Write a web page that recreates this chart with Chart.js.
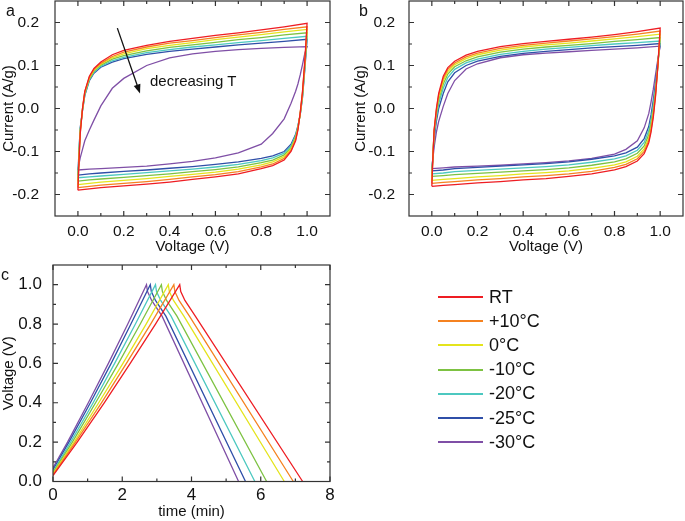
<!DOCTYPE html>
<html>
<head>
<meta charset="utf-8">
<script src="https://cdn.jsdelivr.net/npm/chart.js@4.4.0/dist/chart.umd.min.js"></script>
<style>
  html, body { margin: 0; padding: 0; background: #fff; }
  #wrap { position: relative; width: 685px; height: 521px; overflow: hidden;
          font-family: 'Liberation Sans', Arial, sans-serif; color: #111; }
  #wrap canvas { position: absolute; left: 0; top: 0; }
  .lbl { position: absolute; font-size: 16px; line-height: 18px; white-space: nowrap; }
  .leg { position: absolute; left: 438px; height: 24px; display: flex; align-items: center;
         font-size: 18px; white-space: nowrap; }
  .leg i { display: block; width: 45px; height: 2px; margin-right: 6px; }
</style>
</head>
<body>
<div id="wrap">
  <canvas id="chartA" width="685" height="521"></canvas>
  <canvas id="chartB" width="685" height="521"></canvas>
  <canvas id="chartC" width="685" height="521"></canvas>
  <div class="lbl" style="left:6px;top:2px">a</div>
  <div class="lbl" style="left:359px;top:2px">b</div>
  <div class="lbl" style="left:1px;top:266px">c</div>
  <div class="lbl" style="left:150px;top:72px;font-size:15px">decreasing T</div>
  <div id="legend"></div>
</div>
<script>
// temperatures (same order in every panel)
const temps = ['RT', '+10°C', '0°C', '-10°C', '-20°C', '-25°C', '-30°C'];
const colors = ['#ee1d23', '#f58220', '#e4e41c', '#7dc242', '#4cc8c0', '#2f4fa8', '#7f4fa6'];

// CV sweep voltages (V): forward scan then reverse scan
const cvFwdVolt = [0, 0.005, 0.01, 0.02, 0.03, 0.05, 0.07, 0.1, 0.15, 0.2, 0.3, 0.4, 0.5, 0.6, 0.7, 0.8, 0.9, 1.0];
const cvRevVolt = [1.0, 0.99, 0.98, 0.97, 0.96, 0.95, 0.93, 0.9, 0.85, 0.8, 0.7, 0.6, 0.5, 0.4, 0.3, 0.2, 0.1, 0.05, 0];

// panel a, current (A/g)
const aFwd = [
  [-0.19, -0.12, -0.06, 0.0, 0.04, 0.075, 0.093, 0.108, 0.125, 0.135, 0.147, 0.156, 0.163, 0.17, 0.176, 0.183, 0.19, 0.198],
  [-0.184, -0.115, -0.057, 0.0, 0.039, 0.073, 0.091, 0.105, 0.121, 0.131, 0.143, 0.152, 0.158, 0.165, 0.171, 0.177, 0.184, 0.19],
  [-0.177, -0.11, -0.054, -0.002, 0.037, 0.071, 0.089, 0.103, 0.118, 0.127, 0.139, 0.147, 0.153, 0.16, 0.166, 0.172, 0.178, 0.184],
  [-0.169, -0.105, -0.051, -0.003, 0.035, 0.069, 0.087, 0.101, 0.115, 0.123, 0.134, 0.142, 0.148, 0.154, 0.16, 0.165, 0.171, 0.176],
  [-0.161, -0.1, -0.048, -0.004, 0.032, 0.067, 0.084, 0.098, 0.111, 0.119, 0.13, 0.137, 0.143, 0.148, 0.153, 0.158, 0.163, 0.168],
  [-0.155, -0.095, -0.045, -0.005, 0.03, 0.065, 0.082, 0.096, 0.108, 0.116, 0.126, 0.133, 0.138, 0.143, 0.148, 0.152, 0.156, 0.161],
  [-0.143, -0.128, -0.115, -0.095, -0.075, -0.05, -0.027, 0.006, 0.047, 0.07, 0.1, 0.118, 0.127, 0.133, 0.137, 0.14, 0.142, 0.144]
];
const aRev = [
  [0.198, 0.11, 0.04, -0.01, -0.05, -0.075, -0.1, -0.12, -0.133, -0.14, -0.152, -0.159, -0.165, -0.171, -0.176, -0.18, -0.184, -0.187, -0.19],
  [0.19, 0.106, 0.037, -0.011, -0.048, -0.072, -0.097, -0.116, -0.129, -0.136, -0.147, -0.154, -0.159, -0.165, -0.17, -0.174, -0.178, -0.181, -0.184],
  [0.184, 0.102, 0.034, -0.012, -0.046, -0.069, -0.094, -0.112, -0.124, -0.131, -0.141, -0.148, -0.153, -0.158, -0.163, -0.167, -0.171, -0.174, -0.177],
  [0.176, 0.098, 0.031, -0.013, -0.044, -0.066, -0.091, -0.108, -0.12, -0.126, -0.136, -0.142, -0.147, -0.152, -0.156, -0.16, -0.164, -0.166, -0.169],
  [0.168, 0.094, 0.028, -0.014, -0.042, -0.063, -0.087, -0.104, -0.115, -0.121, -0.13, -0.136, -0.141, -0.145, -0.149, -0.153, -0.157, -0.159, -0.161],
  [0.161, 0.09, 0.025, -0.015, -0.04, -0.06, -0.083, -0.1, -0.11, -0.116, -0.124, -0.13, -0.135, -0.139, -0.143, -0.146, -0.15, -0.152, -0.155],
  [0.144, 0.128, 0.102, 0.078, 0.057, 0.04, 0.012, -0.024, -0.058, -0.083, -0.103, -0.115, -0.123, -0.129, -0.134, -0.137, -0.14, -0.141, -0.143]
];

// panel b, current (A/g)
const bFwd = [
  [-0.181, -0.11, -0.05, 0.0, 0.035, 0.075, 0.095, 0.11, 0.124, 0.133, 0.144, 0.151, 0.156, 0.161, 0.166, 0.172, 0.179, 0.187],
  [-0.174, -0.108, -0.051, -0.003, 0.031, 0.07, 0.091, 0.106, 0.12, 0.129, 0.14, 0.147, 0.152, 0.157, 0.162, 0.167, 0.173, 0.18],
  [-0.167, -0.107, -0.053, -0.007, 0.026, 0.064, 0.086, 0.102, 0.116, 0.125, 0.136, 0.143, 0.148, 0.152, 0.157, 0.162, 0.167, 0.173],
  [-0.158, -0.106, -0.056, -0.012, 0.02, 0.057, 0.08, 0.097, 0.111, 0.12, 0.131, 0.138, 0.143, 0.147, 0.151, 0.156, 0.16, 0.165],
  [-0.152, -0.108, -0.062, -0.02, 0.011, 0.047, 0.072, 0.091, 0.106, 0.115, 0.126, 0.133, 0.138, 0.142, 0.146, 0.15, 0.153, 0.157],
  [-0.145, -0.11, -0.07, -0.03, 0.0, 0.035, 0.062, 0.083, 0.1, 0.11, 0.121, 0.128, 0.133, 0.137, 0.141, 0.144, 0.147, 0.151],
  [-0.14, -0.115, -0.09, -0.055, -0.03, 0.005, 0.035, 0.065, 0.092, 0.104, 0.118, 0.125, 0.129, 0.132, 0.135, 0.138, 0.141, 0.145]
];
const bRev = [
  [0.187, 0.1, 0.03, -0.02, -0.055, -0.08, -0.105, -0.122, -0.135, -0.143, -0.152, -0.158, -0.163, -0.166, -0.17, -0.173, -0.177, -0.179, -0.181],
  [0.18, 0.1, 0.033, -0.015, -0.05, -0.075, -0.1, -0.117, -0.13, -0.137, -0.146, -0.152, -0.156, -0.159, -0.163, -0.166, -0.17, -0.172, -0.174],
  [0.173, 0.1, 0.037, -0.01, -0.044, -0.069, -0.094, -0.111, -0.124, -0.131, -0.139, -0.145, -0.149, -0.152, -0.156, -0.159, -0.163, -0.165, -0.167],
  [0.165, 0.1, 0.042, -0.003, -0.036, -0.061, -0.087, -0.104, -0.117, -0.124, -0.132, -0.138, -0.142, -0.145, -0.148, -0.151, -0.154, -0.156, -0.158],
  [0.157, 0.105, 0.05, 0.008, -0.026, -0.052, -0.079, -0.097, -0.11, -0.117, -0.125, -0.131, -0.135, -0.138, -0.141, -0.144, -0.147, -0.15, -0.152],
  [0.151, 0.11, 0.06, 0.02, -0.015, -0.042, -0.07, -0.09, -0.103, -0.11, -0.118, -0.124, -0.128, -0.131, -0.134, -0.137, -0.14, -0.143, -0.145],
  [0.145, 0.115, 0.08, 0.045, 0.015, -0.012, -0.045, -0.075, -0.095, -0.106, -0.116, -0.122, -0.126, -0.129, -0.132, -0.134, -0.136, -0.138, -0.14]
];

// panel c, galvanostatic charge/discharge: time (min) and voltage (V)
const gcdTime = [
  [0, 0.70, 1.48, 2.23, 2.96, 3.66, 3.69, 3.81, 4.11, 7.21],
  [0, 0.65, 1.40, 2.12, 2.82, 3.49, 3.52, 3.64, 3.94, 6.94],
  [0, 0.61, 1.32, 2.02, 2.69, 3.33, 3.36, 3.48, 3.78, 6.68],
  [0, 0.56, 1.23, 1.89, 2.52, 3.13, 3.16, 3.28, 3.58, 6.17],
  [0, 0.51, 1.16, 1.78, 2.38, 2.96, 2.99, 3.11, 3.41, 5.83],
  [0, 0.46, 1.08, 1.68, 2.25, 2.81, 2.84, 2.96, 3.26, 5.56],
  [0, 0.42, 1.02, 1.60, 2.16, 2.70, 2.73, 2.85, 3.15, 5.36]
];
const gcdVolt = [
  [0.03, 0.2, 0.4, 0.6, 0.8, 1.0, 0.965, 0.92, 0.84, 0],
  [0.035, 0.2, 0.4, 0.6, 0.8, 1.0, 0.965, 0.92, 0.84, 0],
  [0.04, 0.2, 0.4, 0.6, 0.8, 1.0, 0.965, 0.92, 0.84, 0],
  [0.045, 0.2, 0.4, 0.6, 0.8, 1.0, 0.965, 0.92, 0.84, 0],
  [0.05, 0.2, 0.4, 0.6, 0.8, 1.0, 0.965, 0.92, 0.84, 0],
  [0.06, 0.2, 0.4, 0.6, 0.8, 1.0, 0.965, 0.92, 0.84, 0],
  [0.07, 0.2, 0.4, 0.6, 0.8, 1.0, 0.965, 0.92, 0.84, 0]
];

// tick values
const cvVoltTicks = [0, 0.2, 0.4, 0.6, 0.8, 1.0];
const cvVoltMinor = [0.1, 0.3, 0.5, 0.7, 0.9];
const cvCurrTicks = [-0.2, -0.1, 0, 0.1, 0.2];
const cvCurrMinor = [-0.15, -0.05, 0.05, 0.15];
const timeTicks = [0, 2, 4, 6, 8];
const timeMinor = [1, 3, 5, 7];
const gcdVoltTicks = [0, 0.2, 0.4, 0.6, 0.8, 1.0];
const gcdVoltMinor = [0.1, 0.3, 0.5, 0.7, 0.9];

// "decreasing T" arrow, in data units of panel a
const arrowFrom = [0.172, 0.187];
const arrowTo = [0.271, 0.035];

Chart.defaults.font.family = "'Liberation Sans', Arial, sans-serif";
Chart.defaults.color = '#111';

function framePlugin(xMajor, xMinor, yMajor, yMinor, arrow) {
  return {
    id: 'frameTicks',
    afterDraw(chart) {
      const { ctx, chartArea: a } = chart;
      const { x, y } = chart.scales;
      ctx.save();
      ctx.strokeStyle = '#333';
      ctx.lineWidth = 1.2;
      ctx.strokeRect(a.left, a.top, a.right - a.left, a.bottom - a.top);
      ctx.beginPath();
      const tx = (vals, len) => vals.forEach(v => {
        const p = x.getPixelForValue(v);
        ctx.moveTo(p, a.bottom); ctx.lineTo(p, a.bottom - len);
        ctx.moveTo(p, a.top); ctx.lineTo(p, a.top + len);
      });
      const ty = (vals, len) => vals.forEach(v => {
        const p = y.getPixelForValue(v);
        ctx.moveTo(a.left, p); ctx.lineTo(a.left + len, p);
        ctx.moveTo(a.right, p); ctx.lineTo(a.right - len, p);
      });
      tx(xMajor, 5); tx(xMinor, 3);
      ty(yMajor, 5); ty(yMinor, 3);
      ctx.stroke();
      if (arrow) {
        const x1 = x.getPixelForValue(arrow[0][0]), y1 = y.getPixelForValue(arrow[0][1]);
        const x2 = x.getPixelForValue(arrow[1][0]), y2 = y.getPixelForValue(arrow[1][1]);
        const ang = Math.atan2(y2 - y1, x2 - x1);
        ctx.strokeStyle = '#111';
        ctx.fillStyle = '#111';
        ctx.lineWidth = 1.3;
        ctx.beginPath();
        ctx.moveTo(x1, y1);
        ctx.lineTo(x2 - 6 * Math.cos(ang), y2 - 6 * Math.sin(ang));
        ctx.stroke();
        ctx.beginPath();
        ctx.moveTo(x2, y2);
        ctx.lineTo(x2 - 9 * Math.cos(ang) + 3.5 * Math.sin(ang), y2 - 9 * Math.sin(ang) - 3.5 * Math.cos(ang));
        ctx.lineTo(x2 - 9 * Math.cos(ang) - 3.5 * Math.sin(ang), y2 - 9 * Math.sin(ang) + 3.5 * Math.cos(ang));
        ctx.closePath();
        ctx.fill();
      }
      ctx.restore();
    }
  };
}

function axis(min, max, major, digits, size, pad, fit, title) {
  return {
    type: 'linear',
    min: min,
    max: max,
    afterBuildTicks: s => { s.ticks = major.map(v => ({ value: v })); },
    afterFit: s => {
      fit(s);
      s.paddingTop = 0; s.paddingBottom = 0;
      s.paddingLeft = 0; s.paddingRight = 0;
    },
    grid: { display: false },
    border: { display: false },
    ticks: {
      autoSkip: false,
      maxRotation: 0,
      padding: pad,
      font: { size: size },
      callback: v => Number(v).toFixed(digits)
    },
    title: { display: true, text: title, padding: 0, font: { size: 15 } }
  };
}

function lineSets(xsList, ysList) {
  return temps.map((t, i) => ({
    label: t,
    data: xsList[i].map((xv, j) => ({ x: xv, y: ysList[i][j] })),
    borderColor: colors[i],
    borderWidth: 1.3,
    pointRadius: 0,
    showLine: true,
    fill: false,
    tension: 0
  }));
}

function cvChart(id, fwd, rev, pad, yWidth, yPad, arrow) {
  const xs = temps.map(() => cvFwdVolt.concat(cvRevVolt));
  const ys = temps.map((t, i) => fwd[i].concat(rev[i]));
  new Chart(document.getElementById(id), {
    type: 'scatter',
    data: { datasets: lineSets(xs, ys) },
    options: {
      responsive: false,
      animation: false,
      layout: { padding: pad },
      plugins: { legend: { display: false }, tooltip: { enabled: false } },
      scales: {
        x: axis(-0.1, 1.1, cvVoltTicks, 1, 15.5, -2, s => { s.height = 40; }, 'Voltage (V)'),
        y: axis(-0.25, 0.25, cvCurrTicks, 1, 15.5, yPad, s => { s.width = yWidth; }, 'Current (A/g)')
      }
    },
    plugins: [framePlugin(cvVoltTicks, cvVoltMinor, cvCurrTicks, cvCurrMinor, arrow)]
  });
}

cvChart('chartA', aFwd, aRev, { left: 0, top: 1, right: 355, bottom: 265 }, 55, 8, [arrowFrom, arrowTo]);
cvChart('chartB', bFwd, bRev, { left: 352, top: 1, right: 2, bottom: 265 }, 57, 6, null);

new Chart(document.getElementById('chartC'), {
  type: 'scatter',
  data: { datasets: lineSets(gcdTime, gcdVolt) },
  options: {
    responsive: false,
    animation: false,
    layout: { padding: { left: 0, top: 265, right: 355, bottom: 0 } },
    plugins: { legend: { display: false }, tooltip: { enabled: false } },
    scales: {
      x: axis(0, 8, timeTicks, 0, 17, -4, s => { s.height = 39.5; }, 'time (min)'),
      y: axis(0, 1.1, gcdVoltTicks, 1, 17, 3, s => { s.width = 53; }, 'Voltage (V)')
    }
  },
  plugins: [framePlugin(timeTicks, timeMinor, gcdVoltTicks, gcdVoltMinor, null)]
});

// legend
const legend = document.getElementById('legend');
temps.forEach((t, i) => {
  const row = document.createElement('div');
  row.className = 'leg';
  row.style.top = (285 + i * 24.2) + 'px';
  const sw = document.createElement('i');
  sw.style.background = colors[i];
  row.appendChild(sw);
  row.appendChild(document.createTextNode(t));
  legend.appendChild(row);
});
</script>
</body>
</html>
